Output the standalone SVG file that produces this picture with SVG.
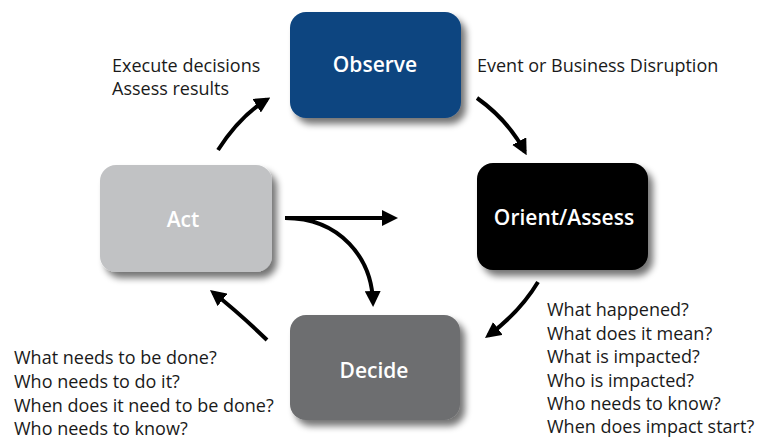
<svg xmlns="http://www.w3.org/2000/svg" width="768" height="440" viewBox="0 0 768 440">
  <style>
    .box { filter: url(#shadow); }
    .label { font-family: "Open Sans", "Noto Sans", sans-serif; font-weight: 600; font-size: 21px; fill: #ffffff; text-anchor: middle; }
    .note { font-family: "Open Sans", "Noto Sans", sans-serif; font-size: 18px; fill: #1a1a1a; }
    .conn { fill: none; stroke: #000; stroke-width: 4; marker-end: url(#arrow); }
  </style>
  <defs>
    <filter id="shadow" x="-20%" y="-20%" width="150%" height="150%">
      <feGaussianBlur in="SourceAlpha" stdDeviation="3.5"/>
      <feOffset dx="5" dy="6" result="b"/>
      <feComponentTransfer><feFuncA type="linear" slope="0.55"/></feComponentTransfer>
      <feMerge><feMergeNode/><feMergeNode in="SourceGraphic"/></feMerge>
    </filter>
    <marker id="arrow" markerUnits="userSpaceOnUse" viewBox="0 0 16 16" refX="12" refY="8" markerWidth="16" markerHeight="16" orient="auto">
      <path d="M0,0 L16,8 L0,16 z" fill="#000"/>
    </marker>
  </defs>
  <rect width="768" height="440" fill="#ffffff"/>

  <g id="observe">
    <rect class="box" x="290" y="12" width="171" height="106" rx="16" fill="#0b4580"/>
    <text class="label" x="375" y="72">Observe</text>
  </g>
  <g id="orient">
    <rect class="box" x="477" y="163" width="171" height="107" rx="16" fill="#000000"/>
    <text class="label" x="564" y="225">Orient/Assess</text>
  </g>
  <g id="decide">
    <rect class="box" x="290" y="315" width="170" height="105" rx="16" fill="#6d6e70"/>
    <text class="label" x="374" y="378">Decide</text>
  </g>
  <g id="act">
    <rect class="box" x="100" y="165" width="172" height="107" rx="16" fill="#c1c2c4"/>
    <text class="label" x="183" y="227">Act</text>
  </g>

  <g id="connectors">
    <path class="conn" d="M218,150 Q240,116 266.9,99.5"/>
    <path class="conn" d="M477,98 Q508,120 524.8,151.7"/>
    <path class="conn" d="M538,282 Q520,312 488.2,335.6"/>
    <path class="conn" d="M267,340 Q238,312 213.1,292.5"/>
    <path class="conn" d="M285,218 L394,218"/>
    <path class="conn" d="M285,218 C340,218 372,258 373,303"/>
  </g>

  <g id="notes">
    <text class="note" x="112" y="72">Execute decisions</text>
    <text class="note" x="112" y="95">Assess results</text>
    <text class="note" x="477" y="72">Event or Business Disruption</text>
    <text class="note" x="547" y="316">What happened?</text>
    <text class="note" x="547" y="339.5">What does it mean?</text>
    <text class="note" x="547" y="363">What is impacted?</text>
    <text class="note" x="547" y="386.5">Who is impacted?</text>
    <text class="note" x="547" y="410">Who needs to know?</text>
    <text class="note" x="547" y="433">When does impact start?</text>
    <text class="note" x="14" y="364">What needs to be done?</text>
    <text class="note" x="14" y="388">Who needs to do it?</text>
    <text class="note" x="14" y="412">When does it need to be done?</text>
    <text class="note" x="14" y="435">Who needs to know?</text>
  </g>
</svg>
